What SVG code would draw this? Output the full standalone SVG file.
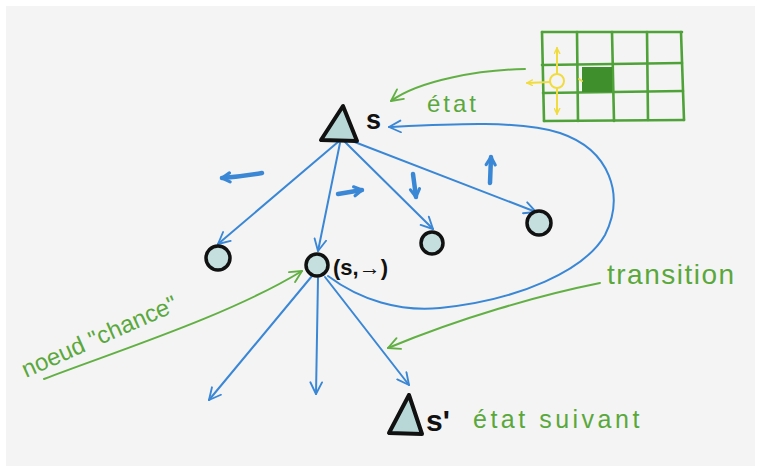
<svg xmlns="http://www.w3.org/2000/svg" width="761" height="472" viewBox="0 0 761 472">
<defs>
<style>
.blue{fill:none;stroke:#3a87d6;stroke-width:2;stroke-linecap:round;stroke-linejoin:round}
.act{fill:none;stroke:#3a87d6;stroke-width:4.5;stroke-linecap:round;stroke-linejoin:round}
.green{fill:none;stroke:#62b044;stroke-width:2;stroke-linecap:round;stroke-linejoin:round}
.grid{fill:none;stroke:#4ea238;stroke-width:2.6;stroke-linecap:round}
.yel{fill:none;stroke:#f0dc40;stroke-width:2;stroke-linecap:round}
.chance{fill:#c5dfdf;stroke:#111;stroke-width:3.5}
.tri{fill:#b8d8d8;stroke:#111;stroke-width:4;stroke-linejoin:round}
.lbl{font-family:"Liberation Sans",Arial,sans-serif;font-weight:bold;fill:#111}
.gt{font-family:"Liberation Sans",Arial,sans-serif;fill:#5aa83c}
</style>
<marker id="ab" viewBox="0 0 12 12" refX="11" refY="6" markerWidth="14" markerHeight="14" markerUnits="userSpaceOnUse" orient="auto">
<path d="M1,1 L11,6 L1,11" fill="none" stroke="#3a87d6" stroke-width="1.6" stroke-linecap="round" stroke-linejoin="round"/>
</marker>
<marker id="ag" viewBox="0 0 12 12" refX="11" refY="6" markerWidth="14" markerHeight="14" markerUnits="userSpaceOnUse" orient="auto">
<path d="M1,1 L11,6 L1,11" fill="none" stroke="#62b044" stroke-width="1.6" stroke-linecap="round" stroke-linejoin="round"/>
</marker>
<marker id="aa" viewBox="0 0 10 10" refX="8" refY="5" markerWidth="13" markerHeight="13" markerUnits="userSpaceOnUse" orient="auto">
<path d="M2,1.5 L8,5 L2,8.5" fill="none" stroke="#3a87d6" stroke-width="2.4" stroke-linecap="round" stroke-linejoin="round"/>
</marker>
<marker id="ay" viewBox="0 0 10 10" refX="9" refY="5" markerWidth="7" markerHeight="7" markerUnits="userSpaceOnUse" orient="auto">
<path d="M1,1 L9,5 L1,9" fill="none" stroke="#f0dc40" stroke-width="2" stroke-linecap="round"/>
</marker>
</defs>
<rect width="761" height="472" fill="#ffffff"/>
<rect x="6" y="6" width="749" height="460" fill="#f4f4f4"/>

<g id="connectors">
<path class="blue" d="M338,142 L218,244" marker-end="url(#ab)"/>
<path class="blue" d="M340,143 L318,251" marker-end="url(#ab)"/>
<path class="blue" d="M345,142 L433,229" marker-end="url(#ab)"/>
<path class="blue" d="M352,141 L536,212" marker-end="url(#ab)"/>
<path class="blue" d="M328,276 C360,300 400,312 440,308 C520,300 585,270 605,235 C625,195 610,150 560,133 C520,120 450,124 389,127" marker-end="url(#ab)"/>
<path class="blue" d="M312,276 L209,400" marker-end="url(#ab)"/>
<path class="blue" d="M318,278 L316,394" marker-end="url(#ab)"/>
<path class="blue" d="M325,277 L409,385" marker-end="url(#ab)"/>
<path class="act" d="M262,173 C250,175 235,177 222,178" marker-end="url(#aa)"/>
<path class="act" d="M338,194 L362,190" marker-end="url(#aa)"/>
<path class="act" d="M413,174 L416,197" marker-end="url(#aa)"/>
<path class="act" d="M490,183 L491,157" marker-end="url(#aa)"/>
<path class="green" d="M525,69 C480,70 420,80 391,101" marker-end="url(#ag)"/>
<path class="green" d="M600,283 C540,295 460,318 388,348" marker-end="url(#ag)"/>
<path class="green" d="M44,379 C120,350 230,315 302,271" marker-end="url(#ag)"/>
</g>

<g id="grid">
<path class="grid" d="M542,32 L682,32 M542,65 L682,63 M543,93 L683,91 M544,121 L684,120"/>
<path class="grid" d="M542,32 L544,121 M577,32 L578,121 M612,32 L614,121 M647,32 L648,120 M681,32 L684,120"/>
<rect x="582" y="67" width="30" height="25" fill="#3f8f2c"/>
<circle class="yel" cx="557" cy="81" r="7"/>
<path class="yel" d="M557,74 L557,48" marker-end="url(#ay)"/>
<path class="yel" d="M557,88 L557,114" marker-end="url(#ay)"/>
<path class="yel" d="M550,82 L527,83" marker-end="url(#ay)"/>
<path class="yel" d="M579,79 L582,81"/>
</g>

<g id="node-s">
<path class="tri" d="M343,106 L321,140 L357,141 Z"/>
<text class="lbl" x="366" y="129" font-size="27">s</text>
</g>
<g id="node-c1"><circle class="chance" cx="218" cy="258" r="12"/></g>
<g id="node-c2">
<circle class="chance" cx="317" cy="265" r="11"/>
<text class="lbl" x="333" y="275" font-size="22">(s,→)</text>
</g>
<g id="node-c3"><circle class="chance" cx="432" cy="243" r="11"/></g>
<g id="node-c4"><circle class="chance" cx="539" cy="223" r="12"/></g>
<g id="node-sp">
<path class="tri" d="M409,395 L389,433 L422,434 Z"/>
<text class="lbl" x="426" y="431" font-size="30">s'</text>
</g>

<g id="labels">
<text class="gt" x="427" y="112" font-size="24" letter-spacing="3">état</text>
<text class="gt" x="607" y="284" font-size="28" letter-spacing="1.5">transition</text>
<text class="gt" x="473" y="428" font-size="25" letter-spacing="3.5">état suivant</text>
<text class="gt" font-size="24" transform="translate(26,378) rotate(-24)">noeud "chance"</text>
</g>
</svg>
